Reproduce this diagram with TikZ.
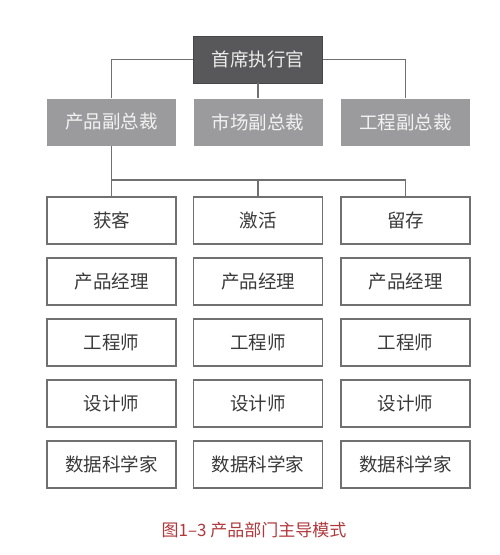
\documentclass[tikz,border=0pt]{standalone}
\usepackage{fontspec}
\setmainfont{Noto Sans CJK SC}
\newfontfamily\capfont{Noto Sans CJK SC}
\definecolor{ceofill}{HTML}{58585A}
\definecolor{vpfill}{HTML}{9B9B9D}
\definecolor{linegray}{HTML}{707070}
\definecolor{boxtext}{HTML}{3A3A3A}
\definecolor{captionred}{HTML}{B0383C}
\begin{document}
\begin{tikzpicture}[x=1pt,y=-1pt,
  box/.style={minimum width=129pt,minimum height=47pt,inner sep=0pt,font=\fontsize{18.5}{18.5}\selectfont},
  ceobox/.style={box,fill=ceofill,draw=ceofill!80!black,line width=0.8pt,text=white!92!black},
  vpbox/.style={box,fill=vpfill,text=white!95!black},
  teambox/.style={box,draw=linegray,line width=1.1pt,fill=white,text=boxtext},
  lbl/.style={font=\fontsize{18.5}{18.5}\selectfont,text=boxtext},
  conn/.style={draw=linegray,line width=1.4pt}]
\useasboundingbox (0,0) rectangle (499,555);
\node[ceobox] (ceo) at (258,59.5) {首席执行官};
\node[vpbox] (vp1) at (111.5,122) {产品副总裁};
\node[vpbox] (vp2) at (258,122) {市场副总裁};
\node[vpbox] (vp3) at (405.5,122) {工程副总裁};
\foreach \c/\x in {1/111.5,2/258,3/405.5}{
  \foreach \r/\y in {1/220.5,2/281.5,3/342.5,4/403.5,5/464.5}{
    \node[teambox] (t\c\r) at (\x,\y) {};
  }
}
\node[lbl] (l11) at (t11) {获客};
\node[lbl] (l21) at (t21) {激活};
\node[lbl] (l31) at (t31) {留存};
\foreach \c in {1,2,3}{
  \node[lbl] (l\c2) at (t\c2) {产品经理};
  \node[lbl] (l\c3) at (t\c3) {工程师};
  \node[lbl] (l\c4) at (t\c4) {设计师};
  \node[lbl] (l\c5) at (t\c5) {数据科学家};
}
\coordinate (bus) at (111.5,180);
\draw[conn] (ceo.west) -| (vp1.north);
\draw[conn] (ceo.east) -| (vp3.north);
\draw[conn] (ceo.south) -- (vp2.north);
\draw[conn] (vp1.south) -- (t11.north);
\draw[conn] (bus) -| (t21.north);
\draw[conn] (bus) -| (t31.north);
\node[font=\capfont\fontsize{17}{17}\selectfont,text=captionred] (cap) at (254,530) {图1–3 产品部门主导模式};
\end{tikzpicture}
\end{document}
